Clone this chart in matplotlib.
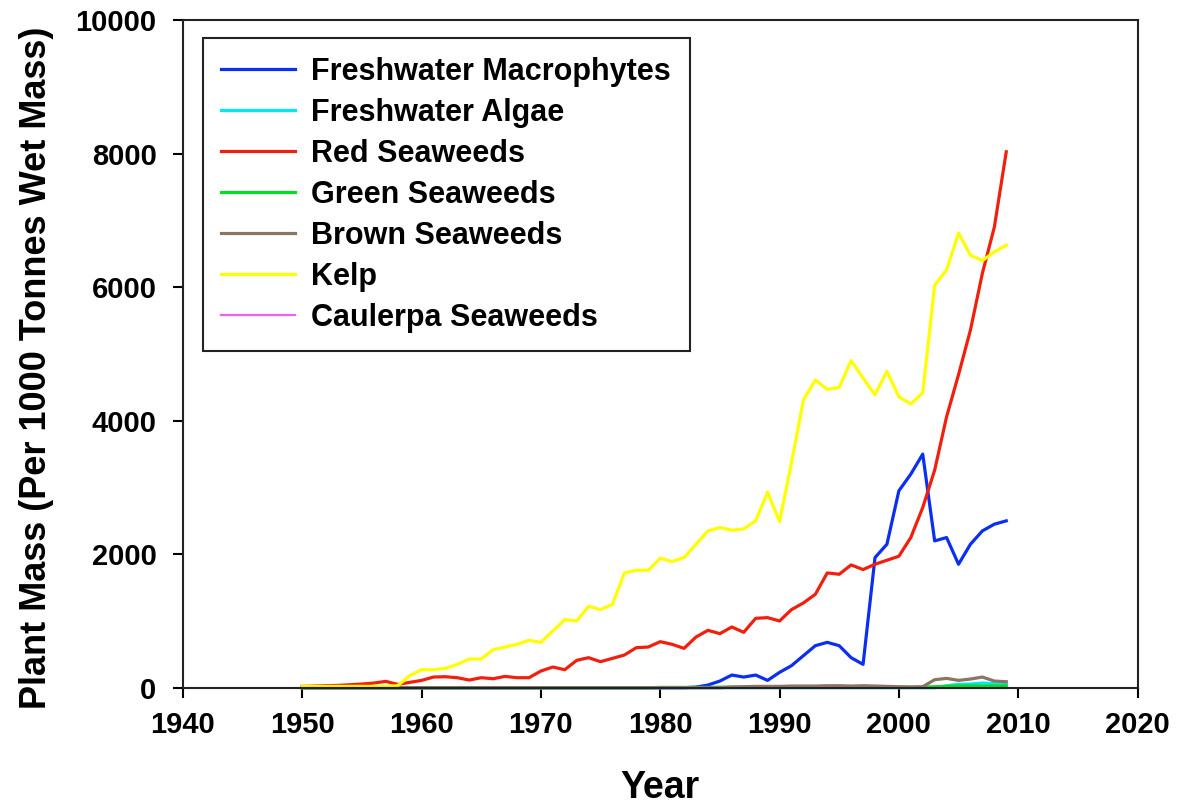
import matplotlib
matplotlib.use("Agg")
import matplotlib.pyplot as plt
import numpy as np

years = np.arange(1950, 2010)

macrophytes = [0] * 33 + [10, 40, 100, 190, 160, 190, 110, 230, 330, 480,
                          630, 680, 630, 450, 350, 1950, 2150, 2950, 3200, 3500,
                          2200, 2250, 1850, 2150, 2350, 2450, 2500]
fw_algae = [0] * 54 + [30, 50, 55, 70, 60, 55]
red = [20, 25, 30, 35, 45, 55, 70, 95, 50, 80,
       110, 160, 165, 150, 115, 150, 135, 170, 150, 150,
       250, 310, 270, 410, 450, 390, 440, 490, 600, 610,
       690, 650, 590, 760, 860, 810, 910, 830, 1040, 1050,
       1000, 1170, 1270, 1400, 1720, 1700, 1840, 1770, 1850, 1910,
       1970, 2250, 2700, 3260, 4060, 4690, 5360, 6210, 6900, 8030]
green = [0] * 30 + [5, 5, 5, 5, 5, 8, 10, 10, 10, 12,
                    12, 12, 15, 15, 15, 15, 15, 15, 12, 12,
                    10, 10, 10, 15, 20, 25, 25, 25, 25, 25]
brown = [0] * 36 + [10, 15, 20, 20, 20, 25, 25, 25, 30, 30,
                    25, 30, 25, 20, 15, 10, 15, 120, 140, 110,
                    130, 160, 100, 90]
kelp = [20, 20, 20, 20, 20, 20, 20, 20, 30, 180,
        270, 270, 290, 350, 430, 430, 570, 610, 650, 710,
        680, 850, 1020, 1000, 1220, 1170, 1250, 1720, 1760, 1760,
        1940, 1890, 1950, 2150, 2350, 2400, 2360, 2380, 2500, 2930,
        2490, 3370, 4310, 4610, 4470, 4500, 4900, 4640, 4390, 4740,
        4360, 4250, 4420, 6030, 6260, 6810, 6480, 6400, 6530, 6630]
caulerpa = [0] * 60

series = [
    ("Freshwater Macrophytes", macrophytes, "#0a2ff0", 2.3),
    ("Freshwater Algae", fw_algae, "#00e8f0", 2.3),
    ("Red Seaweeds", red, "#f0200c", 2.3),
    ("Green Seaweeds", green, "#00e020", 2.3),
    ("Brown Seaweeds", brown, "#8c7560", 2.3),
    ("Kelp", kelp, "#ffff00", 2.3),
    ("Caulerpa Seaweeds", caulerpa, "#f060f0", 1.6),
]

plt.rcParams["font.family"] = ["Liberation Sans", "DejaVu Sans"]
plt.rcParams["font.weight"] = "bold"

fig = plt.figure(figsize=(11.8, 8.11), dpi=100)
ax = fig.add_axes([0.155, 0.152, 0.809, 0.823])

for name, vals, col, lw in series:
    ax.plot(years, vals, color=col, lw=lw, label=name, clip_on=False)

ax.set_xlim(1940, 2020)
ax.set_ylim(0, 10000)
ax.set_xticks(np.arange(1940, 2021, 10))
ax.set_yticks(np.arange(0, 10001, 2000))
ax.tick_params(axis="both", labelsize=21, width=1.5, length=7, direction="out")
ax.tick_params(axis="x", pad=10)
ax.tick_params(axis="y", pad=12)
for lab in ax.get_xticklabels() + ax.get_yticklabels():
    lab.set_fontweight("bold")
for sp in ax.spines.values():
    sp.set_linewidth(1.5)
    sp.set_color("#222222")

ax.set_xlabel("Year", fontsize=27, fontweight="bold", labelpad=22)
ax.set_ylabel("Plant Mass (Per 1000 Tonnes Wet Mass)", fontsize=26,
              fontweight="bold", labelpad=14)
ax.yaxis.set_label_coords(-0.135, 0.48)

leg = ax.legend(loc="upper left", bbox_to_anchor=(0.021, 0.973),
                borderaxespad=0, fontsize=22, handlelength=2.4,
                handletextpad=0.55, labelspacing=0.36, borderpad=0.6,
                fancybox=False, framealpha=1, edgecolor="#222222")
leg.get_frame().set_linewidth(1.5)
for t in leg.get_texts():
    t.set_fontweight("bold")

fig.savefig("out.png", dpi=100)
